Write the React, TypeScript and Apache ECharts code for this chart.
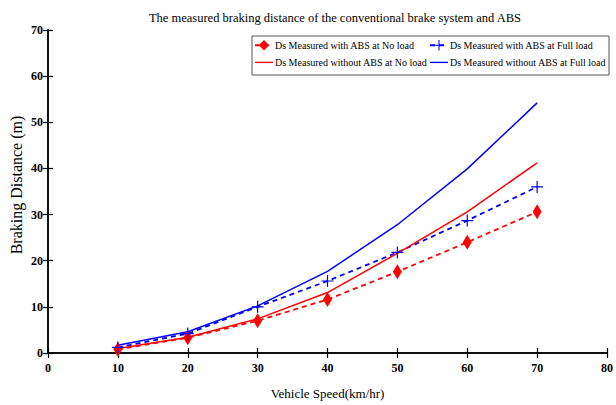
import React, { useEffect, useRef } from "react";
import * as echarts from "echarts";

const speeds = [10, 20, 30, 40, 50, 60, 70];
const absNoLoad = [0.8, 3.3, 7.0, 11.6, 17.6, 24.0, 30.6];
const absFullLoad = [1.2, 4.2, 10.0, 15.6, 21.8, 28.7, 36.0];
const noAbsNoLoad = [1.0, 3.4, 7.4, 13.1, 21.6, 30.6, 41.2];
const noAbsFullLoad = [1.7, 4.6, 10.2, 17.7, 27.8, 39.9, 54.2];

const names = [
  "Ds Measured with ABS at No load",
  "Ds Measured with ABS at Full load",
  "Ds Measured without ABS at No load",
  "Ds Measured without ABS at Full load",
];

const FONT = "Liberation Serif";
const PLUS = "path://M9,0 H11 V9 H20 V11 H11 V20 H9 V11 H0 V9 H9 Z";
const LINE_ICON = "path://M0,0 H40 V3 H0 Z";

const pairs = (ys: number[]) => speeds.map((x, i) => [x, ys[i]]);

export default function App() {
  const ref = useRef<HTMLDivElement>(null);
  useEffect(() => {
    if (!ref.current) return;
    const chart = echarts.init(ref.current, null, { renderer: "svg" });
    const axisLine = { show: true, lineStyle: { color: "#000", width: 1.5 } };
    const tickIn = { show: true, inside: true, length: 5, lineStyle: { color: "#000", width: 1.2 } };
    const labelStyle = { fontFamily: FONT, fontWeight: "bold", fontSize: 12, color: "#000" };
    const legendCommon = {
      orient: "vertical",
      top: 40,
      itemWidth: 18,
      itemHeight: 13,
      itemGap: 7,
      padding: 0,
      textStyle: { fontFamily: FONT, fontSize: 10, color: "#000", padding: [0, 0, 0, -3] },
    };
    chart.setOption({
      animation: false,
      backgroundColor: "#fff",
      title: {
        text: "The measured braking distance of the conventional brake system and ABS",
        left: 330,
        top: 6,
        textAlign: "center",
        textStyle: { fontFamily: FONT, fontWeight: "normal", fontSize: 12.5, color: "#000" },
      },
      grid: { left: 48, right: 5, top: 30, bottom: 43, containLabel: false },
      legend: [
        {
          ...legendCommon,
          left: 254,
          data: [names[0], { name: names[2], icon: LINE_ICON }],
        },
        {
          ...legendCommon,
          left: 429,
          data: [names[1], { name: names[3], icon: LINE_ICON }],
        },
      ],
      graphic: [
        {
          type: "rect",
          shape: { x: 252, y: 36, width: 357, height: 39 },
          style: { fill: "none", stroke: "#555", lineWidth: 1 },
          z: 100,
        },
        {
          type: "text",
          x: 16,
          y: 185,
          rotation: Math.PI / 2,
          style: {
            text: "Braking Distance (m)",
            fontFamily: FONT,
            fontSize: 16,
            fill: "#000",
            textAlign: "center",
            textVerticalAlign: "middle",
          },
        },
      ],
      xAxis: [
        {
          type: "value",
          min: 0,
          max: 80,
          interval: 10,
          name: "Vehicle Speed(km/hr)",
          nameLocation: "middle",
          nameGap: 34,
          nameTextStyle: { fontFamily: FONT, fontSize: 13, color: "#000" },
          axisLine,
          axisTick: tickIn,
          axisLabel: { ...labelStyle, margin: 9 },
          splitLine: { show: false },
        },
        {
          type: "value",
          position: "top",
          min: 0,
          max: 80,
          interval: 10,
          axisLine,
          axisTick: tickIn,
          axisLabel: { show: false },
          splitLine: { show: false },
        },
      ],
      yAxis: [
        {
          type: "value",
          min: 0,
          max: 70,
          interval: 10,
          axisLine,
          axisTick: tickIn,
          axisLabel: { ...labelStyle, margin: 5 },
          splitLine: { show: false },
        },
        {
          type: "value",
          position: "right",
          min: 0,
          max: 70,
          interval: 10,
          axisLine,
          axisTick: tickIn,
          axisLabel: { show: false },
          splitLine: { show: false },
        },
      ],
      series: [
        {
          name: names[0],
          type: "line",
          data: pairs(absNoLoad),
          symbol: "diamond",
          symbolSize: [9, 15],
          itemStyle: { color: "#ff0000" },
          lineStyle: { color: "#ff0000", width: 1.8, type: [5, 4] },
        },
        {
          name: names[1],
          type: "line",
          data: pairs(absFullLoad),
          symbol: PLUS,
          symbolSize: 12,
          itemStyle: { color: "#0000ff" },
          lineStyle: { color: "#0000ff", width: 1.8, type: [5, 4] },
        },
        {
          name: names[2],
          type: "line",
          data: pairs(noAbsNoLoad),
          symbol: "none",
          showSymbol: false,
          itemStyle: { color: "#ff0000" },
          lineStyle: { color: "#ff0000", width: 1.5 },
        },
        {
          name: names[3],
          type: "line",
          data: pairs(noAbsFullLoad),
          symbol: "none",
          showSymbol: false,
          itemStyle: { color: "#0000ff" },
          lineStyle: { color: "#0000ff", width: 1.5 },
        },
      ],
    });
    return () => chart.dispose();
  }, []);
  return <div ref={ref} style={{ width: 616, height: 405, position: "absolute", left: 0, top: 0 }} />;
}
